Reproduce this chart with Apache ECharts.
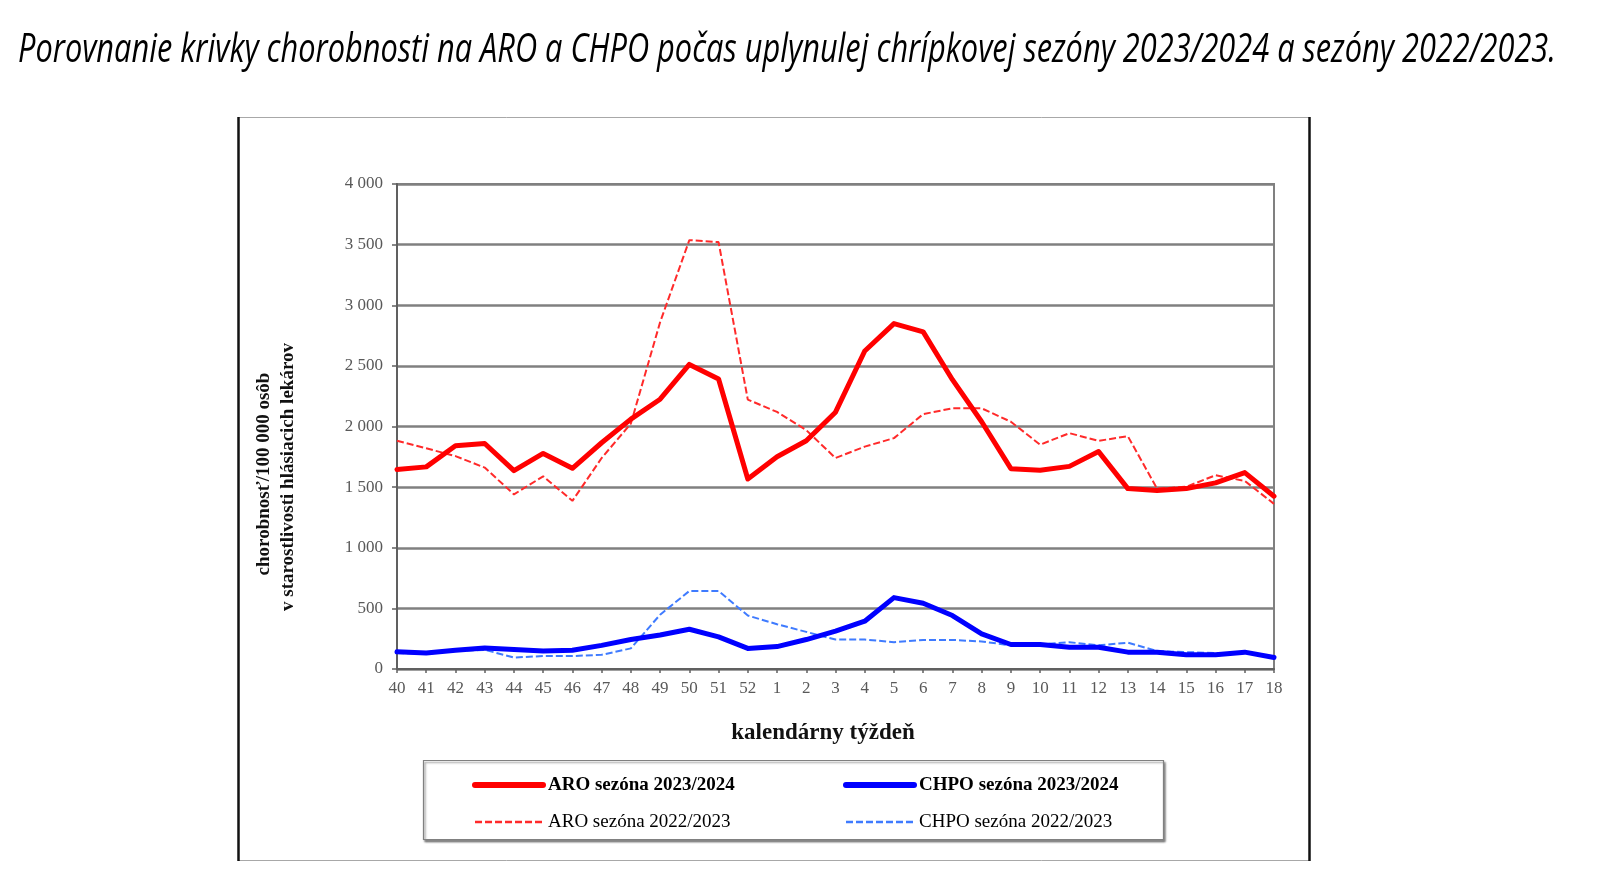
<!DOCTYPE html>
<html>
<head>
<meta charset="utf-8">
<script src="https://cdn.jsdelivr.net/npm/echarts@6/dist/echarts.min.js"></script>
<style>
html,body{margin:0;padding:0;background:#fff;}
#chart{width:1600px;height:876px;}
</style>
</head>
<body>
<div id="chart"></div>
<script>
const titleText = 'Porovnanie krivky chorobnosti na ARO a CHPO počas uplynulej chrípkovej sezóny 2023/2024 a sezóny 2022/2023.';
const yNameLine1 = 'chorobnosť/100 000 osôb';
const yNameLine2 = 'v starostlivosti hlásiacich lekárov';
const xName = 'kalendárny týždeň';

const weeks = ['40','41','42','43','44','45','46','47','48','49','50','51','52',
  '1','2','3','4','5','6','7','8','9','10','11','12','13','14','15','16','17','18'];

const aro2324 = [1645,1667,1841,1860,1636,1778,1655,1866,2061,2225,2512,2392,1567,
  1750,1882,2118,2623,2849,2780,2386,2039,1652,1639,1671,1793,1488,1472,1488,1535,1620,1425];
const aro2223 = [1882,1820,1756,1661,1440,1589,1387,1740,2024,2860,3537,3521,2222,
  2120,1970,1740,1834,1904,2102,2150,2150,2039,1850,1945,1882,1920,1488,1503,1598,1551,1362];
const chpo2324 = [142,132,154,173,161,148,154,195,243,280,328,265,170,
  185,243,312,394,589,542,441,290,202,202,180,180,139,139,117,117,139,95];
const chpo2223 = [132,126,148,158,95,107,107,117,170,448,643,643,441,
  369,306,243,243,221,240,240,227,195,202,221,195,217,148,139,132,132,95];

const seriesNames = ['ARO sezóna 2023/2024','CHPO sezóna 2023/2024','ARO sezóna 2022/2023','CHPO sezóna 2022/2023'];

const serif = '"Liberation Serif", "Times New Roman", serif';

// fit title width
const ctx = document.createElement('canvas').getContext('2d');
ctx.font = 'italic 41px "Open Sans"';
const titleW = ctx.measureText(titleText).width;
const titleScale = 1538 / titleW;

const chart = echarts.init(document.getElementById('chart'));

function fmtY(v){
  if (v >= 1000) { return Math.floor(v/1000) + ' ' + String(v % 1000).padStart(3,'0'); }
  return String(v);
}

const legendBase = {
  orient: 'vertical', top: 770,
  itemWidth: 68, itemHeight: 2, itemGap: 17,
  itemStyle: { opacity: 0 },
  textStyle: { fontFamily: serif, fontSize: 19, color: '#000', lineHeight: 20 }
};

const option = {
  backgroundColor: '#ffffff',
  animation: false,
  grid: {
    left: 397, right: 326, top: 184, bottom: 207,
    show: true, borderColor: '#808080', borderWidth: 2, backgroundColor: '#ffffff'
  },
  xAxis: {
    type: 'category',
    data: weeks,
    boundaryGap: false,
    axisLine: { lineStyle: { color: '#606060', width: 2 } },
    axisTick: { show: true, length: 4, interval: 0, lineStyle: { color: '#606060', width: 1.5 } },
    axisLabel: { interval: 0, margin: 11, color: '#595959', fontFamily: serif, fontSize: 17 },
    splitLine: { show: false }
  },
  yAxis: {
    type: 'value',
    min: 0, max: 4000, interval: 500,
    axisLine: { show: true, lineStyle: { color: '#606060', width: 2 } },
    axisTick: { show: true, length: 5, lineStyle: { color: '#606060', width: 1.5 } },
    axisLabel: { margin: 14, color: '#595959', fontFamily: serif, fontSize: 17, formatter: fmtY },
    splitLine: { show: true, lineStyle: { color: '#808080', width: 2.5 } }
  },
  legend: [
    Object.assign({}, legendBase, {
      left: 467,
      data: [
        { name: seriesNames[0], textStyle: { fontWeight: 'bold' }, lineStyle: { width: 6, cap: 'round' } },
        { name: seriesNames[2], lineStyle: { width: 2.5 } }
      ]
    }),
    Object.assign({}, legendBase, {
      left: 838,
      data: [
        { name: seriesNames[1], textStyle: { fontWeight: 'bold' }, lineStyle: { width: 6, cap: 'round' } },
        { name: seriesNames[3], lineStyle: { width: 2.5 } }
      ]
    })
  ],
  series: [
    {
      name: seriesNames[2], type: 'line', data: aro2223, symbol: 'none', z: 2,
      lineStyle: { color: '#ff2a2a', width: 2, type: [7, 3] }, itemStyle: { color: '#ff2a2a' }
    },
    {
      name: seriesNames[3], type: 'line', data: chpo2223, symbol: 'none', z: 2,
      lineStyle: { color: '#3f7bff', width: 2, type: [7, 3] }, itemStyle: { color: '#3f7bff' }
    },
    {
      name: seriesNames[0], type: 'line', data: aro2324, symbol: 'none', z: 3,
      lineStyle: { color: '#ff0000', width: 5, cap: 'round', join: 'round' }, itemStyle: { color: '#ff0000' }
    },
    {
      name: seriesNames[1], type: 'line', data: chpo2324, symbol: 'none', z: 3,
      lineStyle: { color: '#0000ff', width: 5, cap: 'round', join: 'round' }, itemStyle: { color: '#0000ff' }
    }
  ],
  graphic: [
    {
      type: 'text', x: 18, y: 50, scaleX: titleScale, scaleY: 1, z: 10,
      style: { text: titleText, x: 0, y: 0, font: 'italic 41px "Open Sans"', fill: '#000', align: 'left', verticalAlign: 'middle' }
    },
    // outer frame
    {
      type: 'rect', z: -1, silent: true,
      shape: { x: 238.5, y: 117.5, width: 1071, height: 743 },
      style: { fill: 'none', stroke: '#a8a8a8', lineWidth: 1 }
    },
    {
      type: 'line', z: 0, silent: true,
      shape: { x1: 238.5, y1: 117, x2: 238.5, y2: 861 },
      style: { stroke: '#111', lineWidth: 2.5 }
    },
    {
      type: 'line', z: 0, silent: true,
      shape: { x1: 1309.5, y1: 117, x2: 1309.5, y2: 861 },
      style: { stroke: '#111', lineWidth: 2.5 }
    },
    // legend box
    {
      type: 'rect', z: 0, silent: true,
      shape: { x: 423.5, y: 760.5, width: 740, height: 79 },
      style: { fill: '#fff', stroke: '#808080', lineWidth: 1.2, shadowBlur: 2, shadowOffsetX: 1.5, shadowOffsetY: 2, shadowColor: 'rgba(0,0,0,0.45)' }
    },
    // x axis name
    {
      type: 'text', x: 823, y: 733, z: 10,
      style: { text: xName, font: 'bold 23px ' + serif, fill: '#111', align: 'center', verticalAlign: 'middle' }
    },
    // y axis name (two lines)
    {
      type: 'text', x: 264, y: 474, rotation: Math.PI / 2, z: 10,
      style: { text: yNameLine1, font: 'bold 19px ' + serif, fill: '#111', align: 'center', verticalAlign: 'middle' }
    },
    {
      type: 'text', x: 288, y: 477, rotation: Math.PI / 2, z: 10,
      style: { text: yNameLine2, font: 'bold 19px ' + serif, fill: '#111', align: 'center', verticalAlign: 'middle' }
    }
  ]
};

chart.setOption(option);
</script>
</body>
</html>
